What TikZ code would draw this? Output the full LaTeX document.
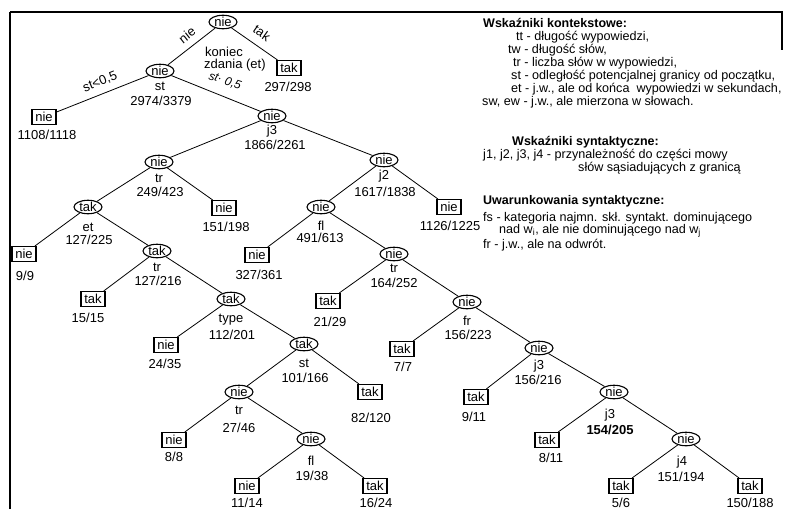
\documentclass[tikz,border=0pt]{standalone}
\usepackage{fontspec}
\setmainfont{Liberation Sans}
\usetikzlibrary{shapes.geometric}
\begin{document}
\begin{tikzpicture}[x=1pt,y=-1pt,
  inner/.style={ellipse,draw,line width=1.1pt,minimum width=28pt,minimum height=13pt,inner sep=0pt,font=\fontsize{13}{14}\selectfont},
  leaf/.style={rectangle,draw,line width=1.1pt,minimum width=24pt,minimum height=15pt,inner sep=0pt,font=\fontsize{13}{14}\selectfont},
  lab/.style={inner sep=0pt,font=\fontsize{13}{14}\selectfont},
  elab/.style={inner sep=0pt,font=\fontsize{13}{14}\selectfont},
  conn/.style={line width=0.8pt},
  leg/.style={anchor=west,inner sep=0pt,font=\fontsize{12.6}{14}\selectfont},
  legt/.style={anchor=west,inner sep=0pt,font=\bfseries\fontsize{12.5}{14}\selectfont},
]
\useasboundingbox (0,0) rectangle (789,509);
% frame
\draw[line width=2pt] (10,509) -- (10,12);
\draw[line width=1.4pt] (10,12) -- (782,12) -- (782,50);

% tree nodes
\node[inner] (n0) at (223,22) {nie};
\node[leaf] (t0) at (289,68) {tak};
\node[lab] (lt0) at (288,87) {297/298};
\node[inner] (n1) at (160,71) {nie};
\node[lab] (an1) at (160,86) {st};
\node[lab] (bn1) at (161,101) {2974/3379};
\node[leaf] (b1) at (44,117) {nie};
\node[lab] (lb1) at (47,135) {1108/1118};
\node[inner] (n2) at (272,116) {nie};
\node[lab] (an2) at (272,131) {j3};
\node[lab] (bn2) at (275,145) {1866/2261};
\node[inner] (n3) at (159,162) {nie};
\node[lab] (an3) at (159,178) {tr};
\node[lab] (bn3) at (160,192) {249/423};
\node[inner] (n4) at (384,160) {nie};
\node[lab] (an4) at (384,176) {j2};
\node[lab] (bn4) at (385,192) {1617/1838};
\node[inner] (n5) at (88,207) {tak};
\node[lab] (an5) at (88,227) {et};
\node[lab] (bn5) at (89,240) {127/225};
\node[leaf] (b5) at (224,208) {nie};
\node[lab] (lb5) at (226,227) {151/198};
\node[leaf] (b6) at (24,254) {nie};
\node[lab] (lb6) at (25,276) {9/9};
\node[inner] (n6) at (157,251) {tak};
\node[lab] (an6) at (157,267) {tr};
\node[lab] (bn6) at (158,281) {127/216};
\node[leaf] (b7) at (93,299) {tak};
\node[lab] (lb7) at (88,318) {15/15};
\node[inner] (n7) at (231,299) {tak};
\node[lab] (an7) at (231,320) {type};
\node[lab] (bn7) at (232,335) {112/201};
\node[leaf] (b8) at (166,345) {nie};
\node[lab] (lb8) at (165,364) {24/35};
\node[inner] (n8) at (304,344) {tak};
\node[lab] (an8) at (304,363) {st};
\node[lab] (bn8) at (305,378) {101/166};
\node[inner] (n9) at (239,392) {nie};
\node[lab] (an9) at (239,410) {tr};
\node[lab] (bn9) at (239,428) {27/46};
\node[leaf] (b9) at (370,392) {tak};
\node[lab] (lb9) at (371,418) {82/120};
\node[leaf] (b10) at (174,440) {nie};
\node[lab] (lb10) at (174,457) {8/8};
\node[inner] (n10) at (311,439) {nie};
\node[lab] (an10) at (311,461) {fl};
\node[lab] (bn10) at (312,476) {19/38};
\node[leaf] (b11) at (247,486) {nie};
\node[lab] (lb11) at (247,502.5) {11/14};
\node[leaf] (b12) at (375,486) {tak};
\node[lab] (lb12) at (376,502.5) {16/24};
\node[inner] (n11) at (321,207) {nie};
\node[lab] (an11) at (321,226) {fl};
\node[lab] (bn11) at (320,238) {491/613};
\node[leaf] (b13) at (449,207) {nie};
\node[lab] (lb13) at (450,226) {1126/1225};
\node[leaf] (b14) at (257,255) {nie};
\node[lab] (lb14) at (259,275) {327/361};
\node[inner] (n12) at (394,254) {nie};
\node[lab] (an12) at (394,268) {tr};
\node[lab] (bn12) at (394,283) {164/252};
\node[leaf] (b15) at (328,301) {tak};
\node[lab] (lb15) at (330,322) {21/29};
\node[inner] (n13) at (467,302) {nie};
\node[lab] (an13) at (467,321) {fr};
\node[lab] (bn13) at (468,335) {156/223};
\node[leaf] (b16) at (402,349) {tak};
\node[lab] (lb16) at (403,367) {7/7};
\node[inner] (n14) at (539,348) {nie};
\node[lab] (an14) at (539,366) {j3};
\node[lab] (bn14) at (538,380) {156/216};
\node[leaf] (b17) at (476,397) {tak};
\node[lab] (lb17) at (474,417) {9/11};
\node[inner] (n15) at (614,392) {nie};
\node[lab] (an15) at (610,415) {j3};
\node[lab,font=\bfseries\fontsize{13}{14}\selectfont] (bn15) at (610,430) {154/205};
\node[leaf] (b18) at (547,440) {tak};
\node[lab] (lb18) at (551,458) {8/11};
\node[inner] (n16) at (686,439) {nie};
\node[lab] (an16) at (682,462) {j4};
\node[lab] (bn16) at (681,477) {151/194};
\node[leaf] (b19) at (621,486) {tak};
\node[lab] (lb19) at (621,502.5) {5/6};
\node[leaf] (b20) at (750,486) {tak};
\node[lab] (lb20) at (750,502.5) {150/188};

% koniec zdania
\node[lab,anchor=west] (kz1) at (205,52) {koniec};
\node[lab,anchor=west] (kz2) at (204,65) {zdania (et)};

% edge labels
\node[elab,rotate=38] (e1) at (187,35) {nie};
\node[elab,rotate=-35] (e2) at (262,33) {tak};
\node[elab,rotate=22] (e3) at (100,82) {st<0,5};
\node[elab,rotate=-18,font=\itshape\fontsize{12}{14}\selectfont] (e4) at (225,81) {st· 0,5};

% connectors
\foreach \a/\b in {n0/n1,n0/t0,n1/b1,n1/n2,n2/n3,n2/n4,n3/n5,n3/b5,n5/b6,n5/n6,
  n6/b7,n6/n7,n7/b8,n7/n8,n8/n9,n8/b9,n9/b10,n9/n10,n10/b11,n10/b12,
  n4/n11,n4/b13,n11/b14,n11/n12,n12/b15,n12/n13,n13/b16,n13/n14,
  n14/b17,n14/n15,n15/b18,n15/n16,n16/b19,n16/b20}
  \draw[conn] (\a) -- (\b);

% legend
\node[legt] (g1) at (483,23) {Wskaźniki kontekstowe:};
\node[leg] (g2) at (516,37) {tt - długość wypowiedzi,};
\node[leg] (g3) at (508,50) {tw - długość słów,};
\node[leg] (g4) at (513,63) {tr - liczba słów w wypowiedzi,};
\node[leg] (g5) at (511,76) {st - odległość potencjalnej granicy od początku,};
\node[leg] (g6) at (511,89) {et - j.w., ale od końca\ \ wypowiedzi w sekundach,};
\node[leg] (g7) at (482,102) {sw, ew - j.w., ale mierzona w słowach.};
\node[legt] (g8) at (512,142) {Wskaźniki syntaktyczne:};
\node[leg] (g9) at (483,155) {j1, j2, j3, j4 - przynależność do części mowy};
\node[leg] (g10) at (578,168) {słów sąsiadujących z granicą};
\node[legt] (g11) at (483,201) {Uwarunkowania syntaktyczne:};
\node[leg] (g12) at (483,218) {fs - kategoria najmn. skł. syntakt. dominującego};
\node[leg] (g13) at (499,231) {nad w\textsubscript{i}, ale nie dominującego nad w\textsubscript{j}};
\node[leg] (g14) at (483,245) {fr - j.w., ale na odwrót.};
\end{tikzpicture}
\end{document}
